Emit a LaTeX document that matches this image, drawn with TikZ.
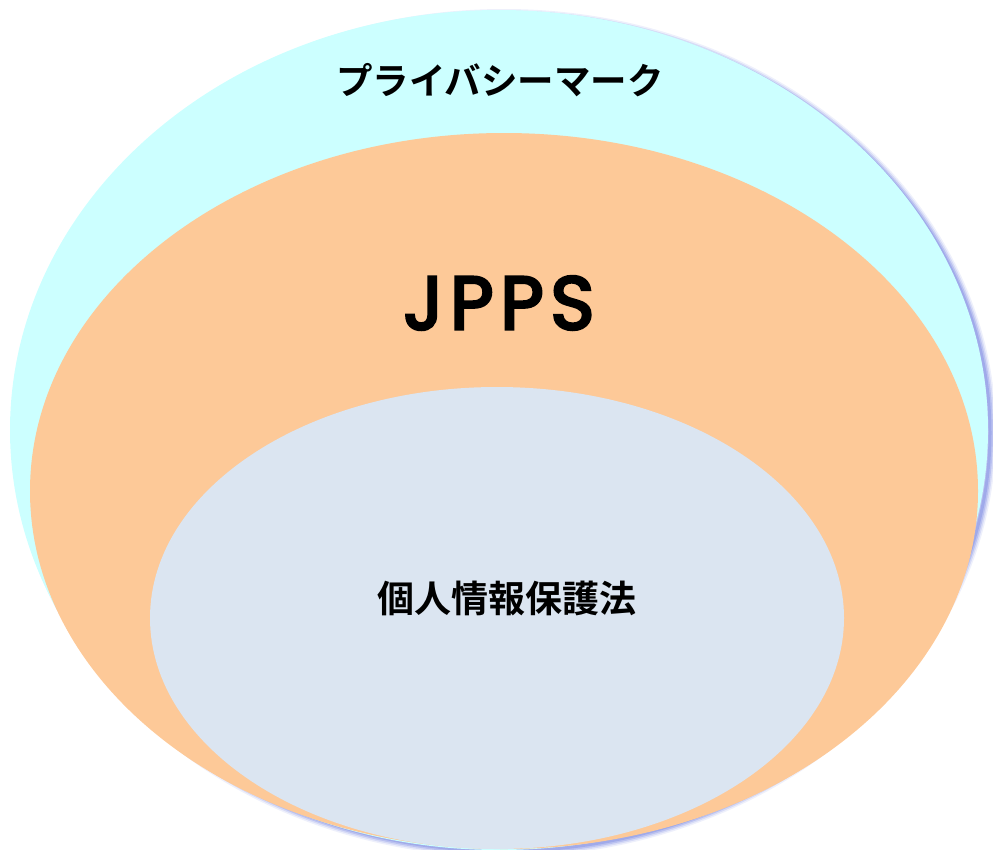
\documentclass[tikz,border=0pt]{standalone}
\usepackage{fontspec}
\newfontfamily\jpfont{Noto Sans CJK JP}[BoldFont={* Bold}]
\newfontfamily\popfont{Poppins}[FakeBold=4,LetterSpace=9]
\usetikzlibrary{shapes.geometric}
\definecolor{outerc}{HTML}{CCFFFF}
\definecolor{midc}{HTML}{FDC998}
\definecolor{innerc}{HTML}{DBE5F1}
\definecolor{shadc}{HTML}{8F9BE6}
\tikzset{
  oval/.style={ellipse, draw=none, inner sep=0pt},
  lbl/.style={text=black, inner sep=0pt},
}
\begin{document}
\begin{tikzpicture}[x=1pt,y=-1pt]
\useasboundingbox (0,0) rectangle (993,849);
\foreach \w/\o in {12/0.15,9/0.25,6/0.4,3/0.6}{
  \draw[shadc, line width=\w pt, opacity=\o] (504,433) ellipse [x radius=486, y radius=418];
}
\node[oval, fill=outerc, minimum width=978pt, minimum height=840pt] (outer) at (499,430) {};
\node[oval, fill=midc, minimum width=948pt, minimum height=716pt] (mid) at (504,491) {};
\node[oval, fill=innerc, minimum width=694pt, minimum height=462pt] (inner) at (497,618) {};
\node[lbl, font=\jpfont\bfseries\fontsize{36.5}{40}\selectfont] (t1) at (500,80) {プライバシーマーク};
\node[lbl, font=\popfont\fontsize{75}{80}\selectfont] (t2) at (499,303) {JPPS};
\node[lbl, font=\jpfont\bfseries\fontsize{37}{40}\selectfont] (t3) at (507,598) {個人情報保護法};
\end{tikzpicture}
\end{document}
